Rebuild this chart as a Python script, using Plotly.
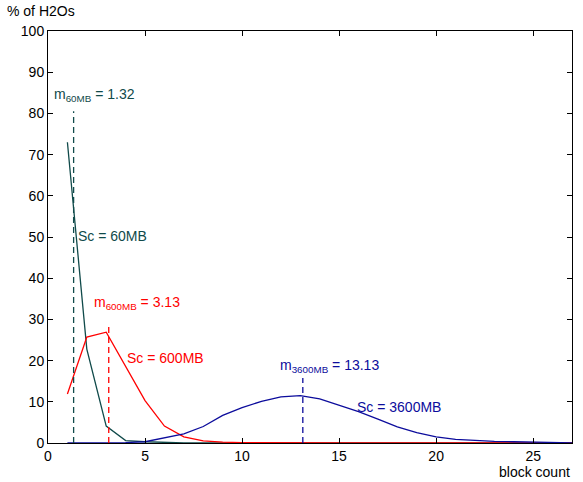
import plotly.graph_objects as go

block_count = list(range(1, 28))
sc60 = [73.0, 22.8, 4.1, 0.6, 0.3, 0.1, 0, 0, 0, 0, 0, 0, 0, 0, 0, 0, 0, 0, 0, 0, 0, 0, 0, 0, 0, 0, 0]
sc600 = [11.9, 25.7, 26.9, 18.5, 10.3, 4.1, 1.5, 0.5, 0.2, 0.1, 0.05, 0, 0, 0, 0, 0, 0, 0, 0, 0, 0, 0, 0, 0, 0, 0, 0]
sc3600 = [0, 0, 0.05, 0.1, 0.3, 1.2, 2.2, 4.0, 6.7, 8.6, 10.1, 11.2, 11.5, 10.7, 9.2, 7.6, 5.8, 3.9, 2.5, 1.5, 0.9, 0.6, 0.4, 0.3, 0.2, 0.1, 0.05]

means = [1.32, 3.13, 13.13]
mean_tops = [80.5, 29.0, 15.8]
mean_labels = ["m<sub>60MB</sub> = 1.32", "m<sub>600MB</sub> = 3.13", "m<sub>3600MB</sub> = 13.13"]
series_names = ["Sc = 60MB", "Sc = 600MB", "Sc = 3600MB"]
colors = ["#104a4a", "#ff0000", "#0c0c9c"]

fig = go.Figure()
for ys, name, c in zip([sc60, sc600, sc3600], series_names, colors):
    fig.add_trace(go.Scatter(x=block_count, y=ys, mode="lines", name=name,
                             line=dict(color=c, width=1.3), showlegend=False))

for m, top, c in zip(means, mean_tops, colors):
    fig.add_trace(go.Scatter(x=[m, m], y=[0, top], mode="lines",
                             line=dict(color=c, width=1.3, dash="6px,4px"), showlegend=False))

font = dict(family="Liberation Sans, Arial, sans-serif", size=14)
# mean labels
mean_label_pos = [(2.4, 84.5), (4.6, 34.0), (14.5, 18.8)]
for (x, y), t, c in zip(mean_label_pos, mean_labels, colors):
    fig.add_annotation(x=x, y=y, text=t, showarrow=False, font=dict(font, color=c))
# series labels
name_pos = [(1.45, 50.2), (3.95, 20.6), (15.8, 8.7)]
for (x, y), t, c in zip(name_pos, series_names, colors):
    fig.add_annotation(x=x, y=y, text=t, showarrow=False, xanchor="left", font=dict(font, color=c))

fig.add_annotation(xref="paper", yref="paper", x=-0.083, y=1.025, text="% of H2Os",
                   showarrow=False, xanchor="left", yanchor="bottom", font=dict(font, color="black"))
fig.add_annotation(xref="paper", yref="paper", x=1.0, y=-0.045, text="block count",
                   showarrow=False, xanchor="right", yanchor="top", font=dict(font, color="black"))

axis_common = dict(showgrid=False, zeroline=False, showline=True, linecolor="black", linewidth=1,
                   mirror="allticks", ticks="inside", ticklen=5, tickcolor="black",
                   tickfont=dict(font, color="black"))
fig.update_xaxes(range=[0, 27], tickvals=[0, 5, 10, 15, 20, 25], **axis_common)
fig.update_yaxes(range=[0, 100], tickvals=list(range(0, 101, 10)), **axis_common)

fig.update_layout(width=583, height=482, margin=dict(l=48, r=11, t=31, b=39),
                  plot_bgcolor="white", paper_bgcolor="white", font=font)
fig.write_html("out.html")
